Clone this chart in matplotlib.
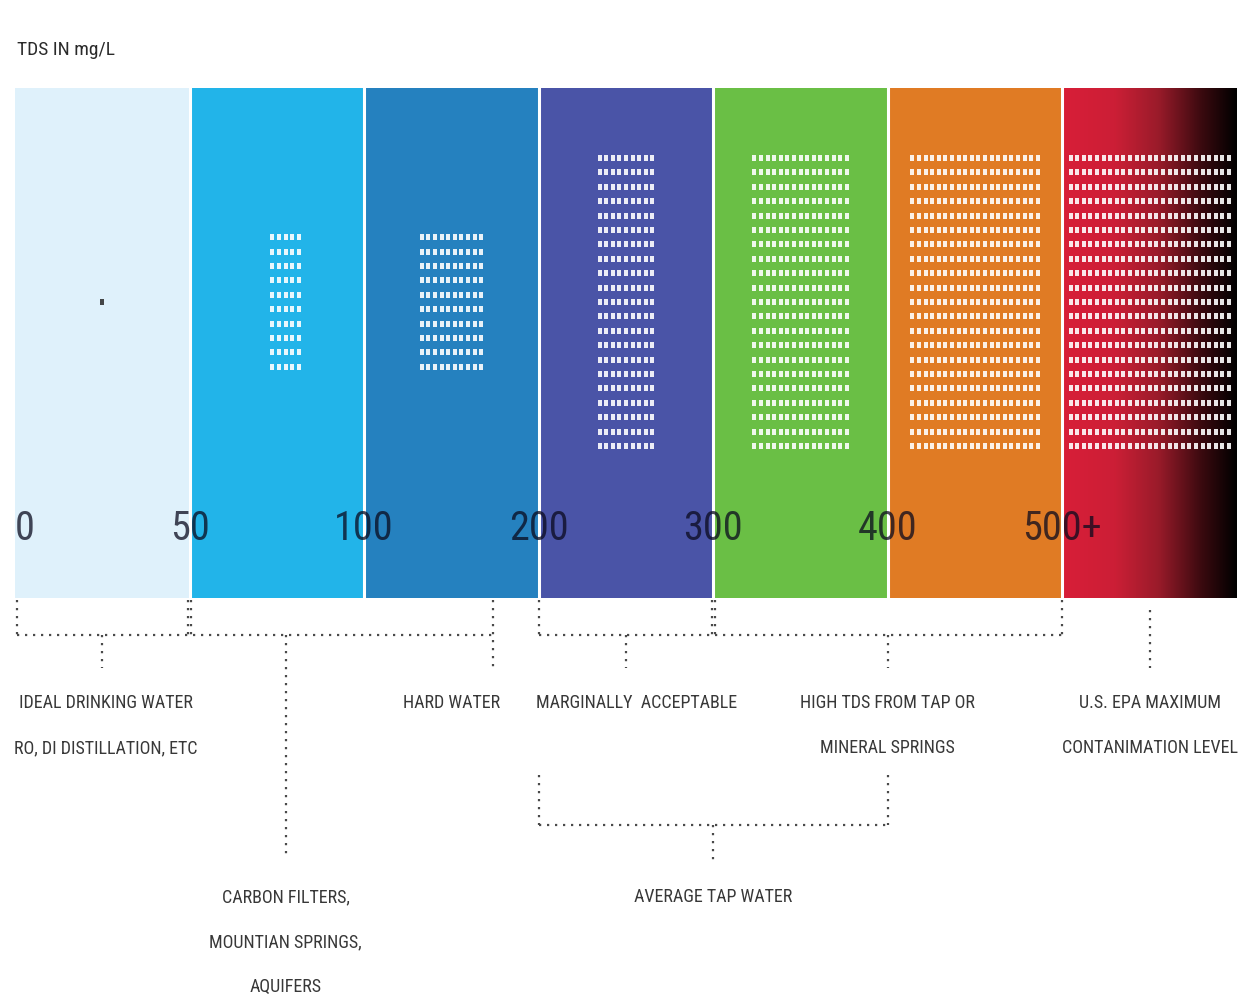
#!/usr/bin/env python3
"""TDS scale infographic: coloured bands 0-500+ mg/L with dot grids and dotted bracket labels."""

import numpy as np
import matplotlib
matplotlib.use('Agg')
import matplotlib.pyplot as plt
from matplotlib import font_manager as fm
from matplotlib.colors import LinearSegmentedColormap

# ---- data -------------------------------------------------------------
tds_ticks = ['0', '50', '100', '200', '300', '400', '500+']          # band boundaries
band_colors = ['#dff1fb', '#22b4e9', '#2581bf', '#4a54a7', '#6abf45', '#e07b24']
dot_cols = [1, 5, 10, 9, 15, 20, 25]                                  # dots per row in each band
dot_rows = [1, 10, 10, 21, 21, 21, 21]                                # rows of dots in each band

upper_labels = ['IDEAL DRINKING WATER\nRO, DI DISTILLATION, ETC',
                'HARD WATER',
                'MARGINALLY  ACCEPTABLE',
                'HIGH TDS FROM TAP OR\nMINERAL SPRINGS',
                'U.S. EPA MAXIMUM\nCONTANIMATION LEVEL']
upper_label_x = [0.52, 2.5, 3.56, 5.0, 6.5]                           # in band units
lower_labels = ['CARBON FILTERS,\nMOUNTIAN SPRINGS,\nAQUIFERS', 'AVERAGE TAP WATER']
lower_label_x = [1.55, 4.0]

# ---- layout (pixels) --------------------------------------------------
W, H = 1253, 1006
LEFT_PX, SEG_PX = 15, 174.57
BAR_TOP, BAR_BOT = 88, 598
NUM_Y = 528
COL_PITCH = 6.6 / SEG_PX
ROW_PITCH = 14.4
DOT_Y = 302


def _w(v):
    """Font weight as a number."""
    return v if isinstance(v, (int, float)) else fm.weight_dict.get(v, 400)


# pick a narrow, non-bold font if one is installed
narrow = ['Open Sans Condensed', 'Noto Sans Condensed', 'Roboto Condensed',
          'Liberation Sans Narrow', 'Noto Sans ExtraCondensed', 'DejaVu Sans Condensed',
          'Open Sans', 'Noto Sans', 'DejaVu Sans']
faces = [(f.name, _w(f.weight), str(f.stretch)) for f in fm.fontManager.ttflist]
FONT, WEIGHT, STRETCH = 'DejaVu Sans', 400, 'condensed'
found = False
for fam in narrow:
    for name, wt, st in faces:
        if name == fam and wt <= 450 and ('Cond' in fam or 'Narrow' in fam or 'cond' in st):
            FONT, WEIGHT, STRETCH = name, wt, st
            found = True
            break
    if found:
        break
plt.rcParams['font.family'] = [FONT, 'DejaVu Sans']
plt.rcParams['font.stretch'] = STRETCH
plt.rcParams['font.weight'] = WEIGHT

fig = plt.figure(figsize=(W / 100, H / 100), dpi=100)
ax = fig.add_axes([0, 0, 1, 1])

# bands
n_bands = len(band_colors)
ax.bar(np.arange(n_bands) + 0.5, BAR_BOT - BAR_TOP, width=1.0, bottom=BAR_TOP,
       color=band_colors, edgecolor='none', zorder=1)
grad = LinearSegmentedColormap.from_list(
    'epa', [(0, '#d81e38'), (0.3, '#cc1f36'), (0.55, '#9a1b2a'), (0.8, '#3a0a0f'), (1, '#000000')])
ax.imshow(np.linspace(0, 1, 256)[None, :], extent=[n_bands, n_bands + 1, BAR_BOT, BAR_TOP],
          aspect='auto', cmap=grad, zorder=1)
ax.set_xlim(-LEFT_PX / SEG_PX, (W - LEFT_PX) / SEG_PX)
ax.set_ylim(H, 0)
ax.axis('off')
for b in range(1, len(tds_ticks)):
    ax.plot([b, b], [BAR_TOP, BAR_BOT], color='white', lw=2.2, zorder=2)

# dot grids
rect = [(-0.55, -1), (0.55, -1), (0.55, 1), (-0.55, 1)]
for i, (nc, nr) in enumerate(zip(dot_cols, dot_rows)):
    cx = i + 0.5 + (0.05 if i == 1 else 0)
    xs = cx + (np.arange(nc) - (nc - 1) / 2) * COL_PITCH
    ys = DOT_Y + (np.arange(nr) - (nr - 1) / 2) * ROW_PITCH
    gx, gy = np.meshgrid(xs, ys)
    ax.scatter(gx.ravel(), gy.ravel(), marker=rect, s=24,
               color='#333333' if i == 0 else 'white',
               alpha=0.9, linewidths=0, zorder=3)

# boundary numbers
num_kw = dict(va='center', fontsize=29, color='#0a0a1e', alpha=0.75, zorder=4)
for i, t in enumerate(tds_ticks):
    ax.text(i, NUM_Y, t, ha='left' if i == 0 else 'center', **num_kw)

ax.text(0.01, 50, 'TDS IN mg/L', ha='left', va='center', fontsize=14, color='#2a2a2a')

# dotted brackets
dot_kw = dict(color='#4a4a4a', lw=1.6, linestyle=(0, (1.0, 2.6)), dash_capstyle='butt', zorder=2)


def vline(x, y0, y1):
    ax.plot([x, x], [y0, y1], **dot_kw)


def hline(x0, x1, y):
    ax.plot([x0, x1], [y, y], **dot_kw)


TICK_TOP, BRACKET_Y, DROP_Y = 600, 635, 668
# bracket 0 .. hard water
hline(0.01, 2.75, BRACKET_Y)
for x in (0.01, 0.99, 1.01):
    vline(x, TICK_TOP, BRACKET_Y)
vline(2.74, TICK_TOP, DROP_Y)
vline(0.5, BRACKET_Y, DROP_Y)
vline(1.55, BRACKET_Y, 858)
# bracket 200 .. 500
hline(3.0, 6.0, BRACKET_Y)
for x in (3.0, 3.99, 4.01, 6.0):
    vline(x, TICK_TOP, BRACKET_Y)
vline(3.5, BRACKET_Y, DROP_Y)
vline(5.0, BRACKET_Y, DROP_Y)
# EPA
vline(6.5, 610, DROP_Y)
# average tap water bracket
hline(3.0, 5.0, 825)
vline(3.0, 775, 825)
vline(5.0, 775, 825)
vline(4.0, 825, 860)

# labels
LINE_GAP = 45
lab_kw = dict(ha='center', va='center', fontsize=13, color='#383838')
for txt, x in zip(upper_labels, upper_label_x):
    for k, line in enumerate(txt.split('\n')):
        ax.text(x, 703 + k * LINE_GAP, line, **lab_kw)
for txt, x in zip(lower_labels, lower_label_x):
    for k, line in enumerate(txt.split('\n')):
        ax.text(x, 897 + k * LINE_GAP, line, **lab_kw)

fig.savefig('out.png', dpi=100)
